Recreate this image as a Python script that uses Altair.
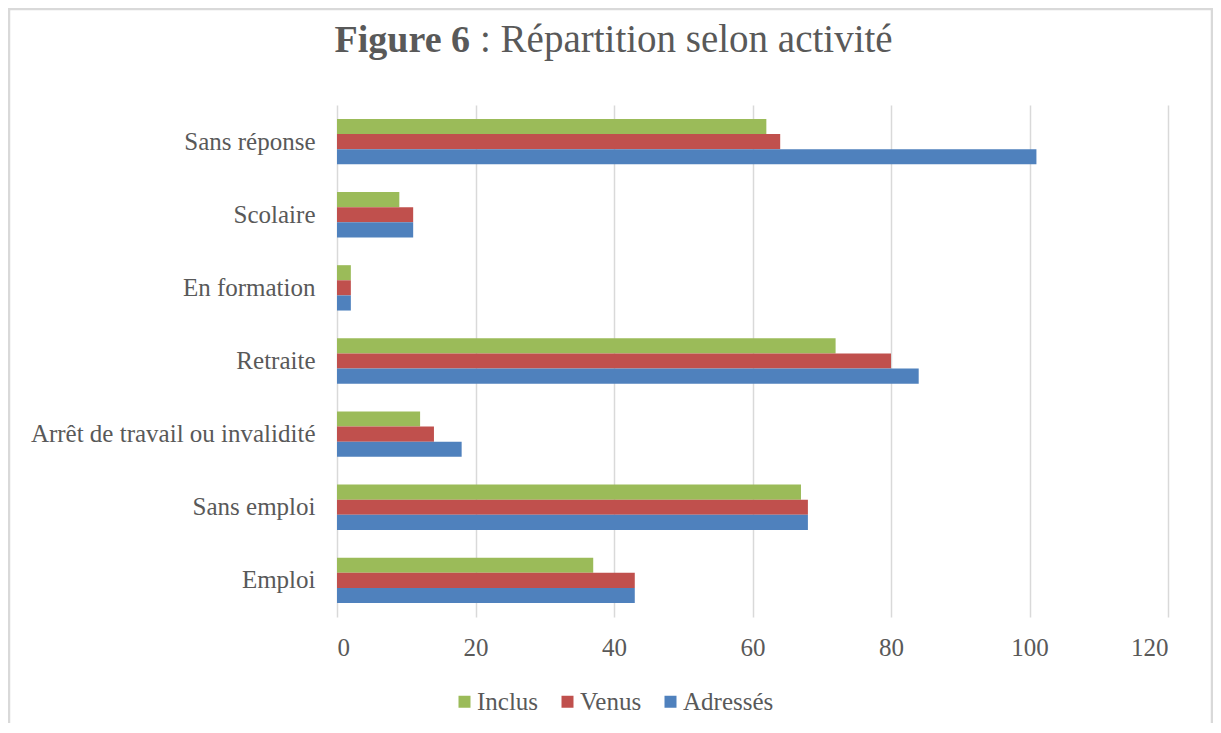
import altair as alt
import pandas as pd

categories = ["Sans réponse", "Scolaire", "En formation", "Retraite",
              "Arrêt de travail ou invalidité", "Sans emploi", "Emploi"]
series = ["Inclus", "Venus", "Adressés"]
inclus = [62, 9, 2, 72, 12, 67, 37]
venus = [64, 11, 2, 80, 14, 68, 43]
adresses = [101, 11, 2, 84, 18, 68, 43]
colors = ["#9BBB59", "#C0504D", "#4F81BD"]
x_ticks = [0, 20, 40, 60, 80, 100, 120]

rows = []
for i, c in enumerate(categories):
    for s, vals in zip(series, [inclus, venus, adresses]):
        rows.append({"cat": c, "serie": s, "val": vals[i]})
df = pd.DataFrame(rows)

FONT = "Liberation Serif"
GREY = "#595959"

bars = alt.Chart(df).mark_bar().encode(
    y=alt.Y("cat:N", sort=categories, title=None,
            scale=alt.Scale(paddingInner=0.38, paddingOuter=0.19),
            axis=alt.Axis(domain=False, ticks=False, labelPadding=22,
                          labelFont=FONT, labelFontSize=25, labelColor=GREY,
                          labelLimit=400)),
    yOffset=alt.YOffset("serie:N", sort=series),
    x=alt.X("val:Q", title=None,
            scale=alt.Scale(domain=[0, 120], nice=False),
            axis=alt.Axis(values=x_ticks, domain=False, ticks=False,
                          grid=True, gridColor="#d9d9d9", gridWidth=1.5,
                          labelPadding=18, labelFont=FONT, labelFontSize=25,
                          labelColor=GREY)),
    color=alt.Color("serie:N", sort=series,
                    scale=alt.Scale(domain=series, range=colors),
                    legend=alt.Legend(orient="none", legendX=115, legendY=584,
                                      direction="horizontal", title=None,
                                      symbolType="square", symbolSize=144,
                                      symbolStrokeWidth=0, symbolOpacity=1,
                                      labelFont=FONT, labelFontSize=25,
                                      labelColor=GREY, columnPadding=16,
                                      labelOffset=0, padding=0)),
)

one = pd.DataFrame({"a": [0]})

frame = alt.Chart(one).mark_rect(filled=False, stroke="#d9d9d9", strokeWidth=2.5).encode(
    x=alt.value(-328), x2=alt.value(875), y=alt.value(-96), y2=alt.value(700)
)

title_bold = alt.Chart(one).mark_text(
    font=FONT, fontSize=38, fontWeight="bold", color=GREY, align="right",
    baseline="alphabetic"
).encode(x=alt.value(133), y=alt.value(-53), text=alt.value("Figure 6"))

title_rest = alt.Chart(one).mark_text(
    font=FONT, fontSize=39, color=GREY, align="left", baseline="alphabetic"
).encode(x=alt.value(143), y=alt.value(-53),
         text=alt.value(": Répartition selon activité"))

chart = alt.layer(frame, bars, title_bold, title_rest).properties(
    width=831, height=512,
    autosize=alt.AutoSizeParams(type="none"),
    padding={"left": 329, "top": 97, "right": 45, "bottom": 106},
).configure_view(stroke=None)

chart.save("out.html", embed_options={"renderer": "svg", "actions": False})
